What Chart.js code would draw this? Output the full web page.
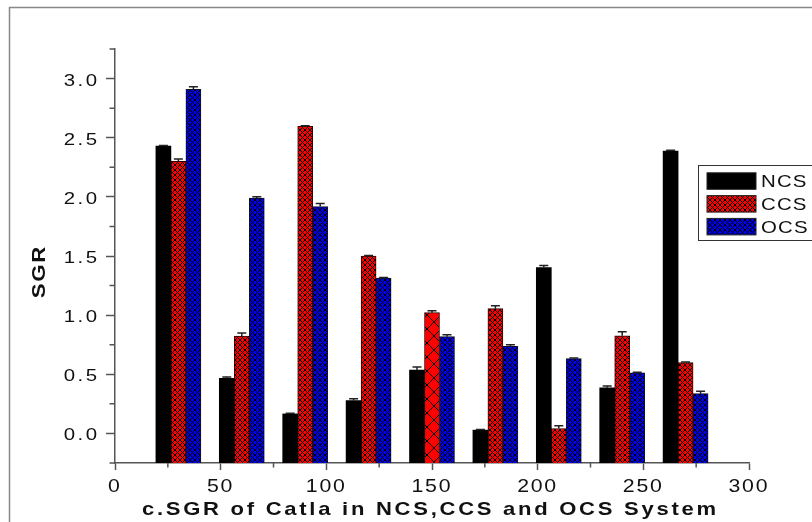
<!DOCTYPE html>
<html>
<head>
<meta charset="utf-8">
<script src="https://cdn.jsdelivr.net/npm/chart.js@4.4.0/dist/chart.umd.min.js"></script>
<style>
  html, body { margin: 0; padding: 0; background: #fff; }
  #wrap { width: 812px; height: 522px; position: relative; }
</style>
</head>
<body>
<div id="wrap"><canvas id="sgr" width="812" height="522"></canvas></div>
<script>
// data
var categories = [30, 60, 90, 120, 150, 180, 210, 240, 270];
var ncsValues = [2.43, 0.465, 0.165, 0.277, 0.536, 0.028, 1.402, 0.386, 2.386];
var ccsValues = [2.30, 0.823, 2.597, 1.50, 1.021, 1.055, 0.042, 0.826, 0.598];
var ocsValues = [2.91, 1.99, 1.918, 1.314, 0.818, 0.736, 0.632, 0.513, 0.336];
var ncsErr = [0.005, 0.012, 0.005, 0.017, 0.025, 0.005, 0.017, 0.014, 0.008];
var ccsErr = [0.02, 0.025, 0.005, 0.005, 0.017, 0.025, 0.023, 0.034, 0.005];
var ocsErr = [0.02, 0.01, 0.025, 0.005, 0.017, 0.014, 0.005, 0.005, 0.02];
var seriesNames = ['NCS', 'CCS', 'OCS'];
var yTicks = [0, 0.5, 1.0, 1.5, 2.0, 2.5, 3.0];
var yMinor = [-0.25, 0.25, 0.75, 1.25, 1.75, 2.25, 2.75, 3.25];
var xTicks = [0, 50, 100, 150, 200, 250, 300];
var xMinor = [25, 75, 125, 175, 225, 275];
var xTitle = 'c.SGR of Catla in NCS,CCS and OCS System';
var yTitle = 'SGR';

var FONT = '"Liberation Sans", Arial, sans-serif';
var yMin = -0.25, yMax = 3.25;

// crosshatch fill
function hatch(bg, size, lw) {
    var c = document.createElement('canvas');
    c.width = size; c.height = size;
    var g = c.getContext('2d');
    g.fillStyle = bg;
    g.fillRect(0, 0, size, size);
    g.strokeStyle = '#000';
    g.lineWidth = lw;
    g.beginPath();
    g.moveTo(0, 0); g.lineTo(size, size);
    g.moveTo(size, 0); g.lineTo(0, size);
    g.stroke();
    return g.createPattern(c, 'repeat');
}
var redFine = hatch('#ff0000', 5, 1);
var redWide = hatch('#ff0000', 14, 1);
var blueFine = hatch('#0000ee', 5, 1);

function pts(vals) {
    return categories.map(function(c, i) { return {x: c, y: vals[i]}; });
}

// the original text is a bit stretched sideways, so text gets a scale + spacing
function drawText(ctx, txt, x, y, align, font, spacing, sx) {
    ctx.save();
    ctx.font = font;
    ctx.letterSpacing = spacing + 'px';
    ctx.textAlign = 'left';
    ctx.textBaseline = 'alphabetic';
    var w = ctx.measureText(txt).width - spacing;
    ctx.translate(x, y);
    ctx.scale(sx, 1);
    var off = align === 'right' ? -w : (align === 'center' ? -w / 2 : 0);
    ctx.fillText(txt, off, 0);
    ctx.restore();
}

var errs = [ncsErr, ccsErr, ocsErr];

var errorBars = {
    id: 'errorBars',
    afterDatasetsDraw: function(chart) {
        var ctx = chart.ctx, ys = chart.scales.y;
        ctx.save();
        ctx.strokeStyle = '#222';
        ctx.lineWidth = 1.5;
        chart.data.datasets.forEach(function(ds, i) {
            chart.getDatasetMeta(i).data.forEach(function(el, j) {
                var v = ds.data[j].y, e = errs[i][j];
                var top = ys.getPixelForValue(v + e);
                ctx.beginPath();
                ctx.moveTo(el.x, ys.getPixelForValue(v));
                ctx.lineTo(el.x, top);
                ctx.moveTo(el.x - 4.5, top);
                ctx.lineTo(el.x + 4.5, top);
                ctx.stroke();
            });
        });
        ctx.restore();
    }
};

var decor = {
    id: 'decor',
    beforeDraw: function(chart) {
        var ctx = chart.ctx;
        ctx.save();
        ctx.strokeStyle = '#888';
        ctx.lineWidth = 1.5;
        ctx.beginPath();
        ctx.moveTo(9.5, 530);
        ctx.lineTo(9.5, 7.5);
        ctx.lineTo(820, 7.5);
        ctx.stroke();
        ctx.restore();
    },
    afterDraw: function(chart) {
        var ctx = chart.ctx, xs = chart.scales.x, ys = chart.scales.y;
        var a = chart.chartArea;
        ctx.save();
        // minor ticks
        ctx.strokeStyle = '#555';
        ctx.lineWidth = 1.5;
        ctx.beginPath();
        yMinor.forEach(function(v) {
            var p = ys.getPixelForValue(v);
            ctx.moveTo(a.left, p); ctx.lineTo(a.left - 5.5, p);
        });
        xMinor.forEach(function(v) {
            var p = xs.getPixelForValue(v);
            ctx.moveTo(p, a.bottom); ctx.lineTo(p, a.bottom + 4.5);
        });
        ctx.stroke();

        // tick labels
        ctx.fillStyle = '#111';
        yTicks.forEach(function(v) {
            drawText(ctx, v.toFixed(1), a.left - 18, ys.getPixelForValue(v) + 7,
                'right', '17px ' + FONT, 2, 1.2);
        });
        xTicks.forEach(function(v) {
            drawText(ctx, String(v), xs.getPixelForValue(v) - 1, a.bottom + 29,
                'center', '18.5px ' + FONT, 1.5, 1.15);
        });

        // axis titles
        drawText(ctx, xTitle, 429, 515, 'center', 'bold 18.5px ' + FONT, 2.3, 1.19);
        ctx.save();
        ctx.translate(45, 272.5);
        ctx.rotate(-Math.PI / 2);
        drawText(ctx, yTitle, 0, 0, 'center', 'bold 18.5px ' + FONT, 1.5, 1.2);
        ctx.restore();

        // legend
        ctx.fillStyle = '#fff';
        ctx.strokeStyle = '#333';
        ctx.lineWidth = 1;
        ctx.fillRect(698.5, 165.5, 130, 75);
        ctx.strokeRect(698.5, 165.5, 130, 75);
        chart.data.datasets.forEach(function(ds, i) {
            var cy = 180.8 + i * 22.8;
            ctx.fillStyle = ds.legendFill;
            ctx.fillRect(707, cy - 8, 49, 16.5);
            ctx.strokeStyle = '#222';
            ctx.strokeRect(707, cy - 8, 49, 16.5);
            ctx.fillStyle = '#111';
            drawText(ctx, ds.label, 761, cy + 6.5, 'left', '17px ' + FONT, 1, 1.2);
        });
        ctx.restore();
    }
};

new Chart(document.getElementById('sgr'), {
    type: 'bar',
    data: {
        datasets: [{
            label: seriesNames[0],
            data: pts(ncsValues),
            backgroundColor: '#000',
            borderWidth: 0,
            legendFill: '#000'
        }, {
            label: seriesNames[1],
            data: pts(ccsValues),
            backgroundColor: categories.map(function(c) { return c === 150 ? redWide : redFine; }),
            borderColor: '#300',
            borderWidth: 1,
            legendFill: redFine
        }, {
            label: seriesNames[2],
            data: pts(ocsValues),
            backgroundColor: blueFine,
            borderColor: '#112',
            borderWidth: 1,
            legendFill: blueFine
        }]
    },
    options: {
        responsive: false,
        animation: false,
        base: yMin,
        barThickness: 15,
        layout: { padding: { left: 0, top: 49, right: 63, bottom: 0 } },
        plugins: { legend: { display: false }, tooltip: { enabled: false } },
        scales: {
            x: {
                type: 'linear',
                min: 0, max: 300,
                offset: false,
                afterBuildTicks: function(s) { s.ticks = xTicks.map(function(v) { return {value: v}; }); },
                afterFit: function(s) { s.height = 59; },
                grid: { drawOnChartArea: false, offset: false, tickLength: 7, tickColor: '#555', tickWidth: 1.5 },
                border: { color: '#555', width: 1.5 },
                ticks: { display: false }
            },
            y: {
                min: yMin, max: yMax,
                afterBuildTicks: function(s) { s.ticks = yTicks.map(function(v) { return {value: v}; }); },
                afterFit: function(s) { s.width = 115; },
                grid: { drawOnChartArea: false, tickLength: 9, tickColor: '#555', tickWidth: 1.5 },
                border: { color: '#555', width: 1.5 },
                ticks: { display: false }
            }
        }
    },
    plugins: [decor, errorBars]
});
</script>
</body>
</html>
